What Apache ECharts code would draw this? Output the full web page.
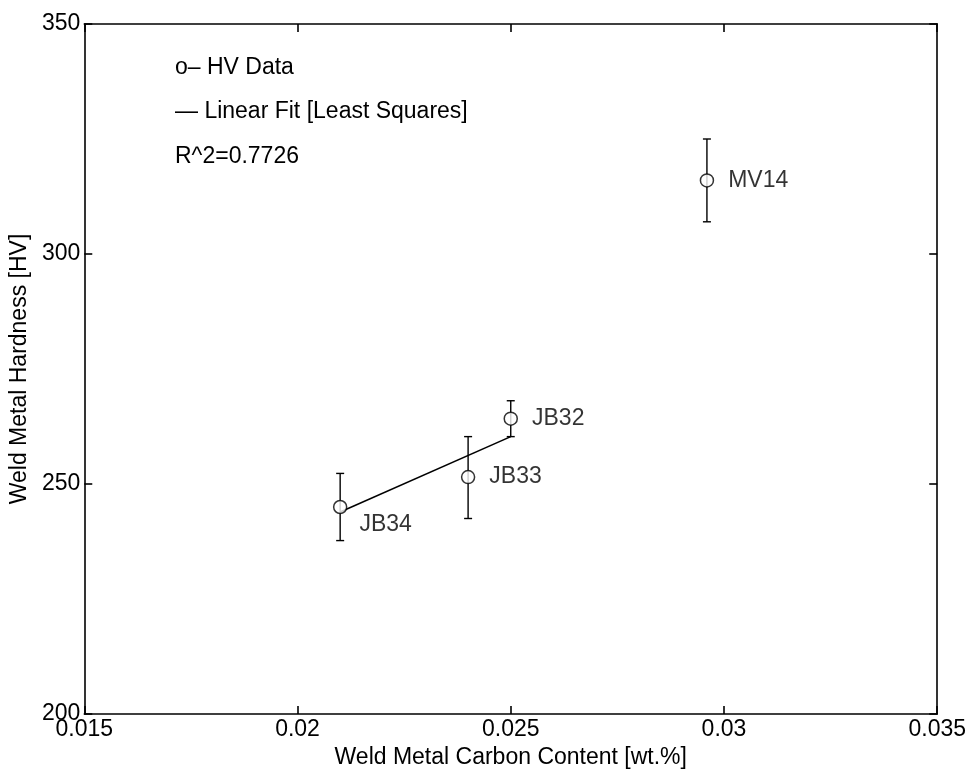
<!DOCTYPE html>
<html><head><meta charset="utf-8">
<script src="https://cdn.jsdelivr.net/npm/echarts@6/dist/echarts.min.js"></script>
<style>html,body{margin:0;padding:0;background:#fff}#c{width:969px;height:776px}</style>
</head><body><div id="c"></div>
<script>
const sampleNames = ['JB34', 'JB33', 'JB32', 'MV14'];
const carbon = [0.021, 0.024, 0.025, 0.0296];
const hardness = [245, 251.5, 264.2, 316];
const errLow = [237.7, 242.5, 260.3, 307];
const errHigh = [252.3, 260.3, 268.1, 325];
const fitX = [0.021, 0.025];
const fitY = [243.9, 260.3];
const xTicks = ['0.015', '0.02', '0.025', '0.03', '0.035'];
const yTicks = ['200', '250', '300', '350'];
const notes = ['o\u2013 HV Data', '\u2014 Linear Fit [Least Squares]', 'R^2=0.7726'];

const FONT = 'Liberation Sans, Arial, sans-serif';
const FS = 23;
const chart = echarts.init(document.getElementById('c'));
const xFmt = v => { const s = xTicks.find(t => Math.abs(parseFloat(t) - v) < 1e-9); return s || ''; };
const yFmt = v => { const s = yTicks.find(t => Math.abs(parseFloat(t) - v) < 1e-9); return s || ''; };
const axisCommon = {
  axisLine: { show: true, onZero: false, lineStyle: { color: '#000', width: 1.6 } },
  axisTick: { show: true, inside: true, length: 8, lineStyle: { color: '#000', width: 1.6 } },
  splitLine: { show: false }
};
const points = carbon.map((x, i) => [x, hardness[i], sampleNames[i]]);
const errs = carbon.map((x, i) => [x, errLow[i], errHigh[i]]);

chart.setOption({
  animation: false,
  grid: { left: 84, right: 27, top: 24, bottom: 62 },
  xAxis: [
    Object.assign({ type: 'value', min: 0.015, max: 0.035, interval: 0.005, position: 'bottom',
      name: 'Weld Metal Carbon Content [wt.%]', nameLocation: 'middle', nameGap: 29,
      nameTextStyle: { fontFamily: FONT, fontSize: FS, color: '#000' },
      axisLabel: { formatter: xFmt, fontFamily: FONT, fontSize: FS, color: '#000', margin: 4 } }, axisCommon),
    Object.assign({ type: 'value', min: 0.015, max: 0.035, interval: 0.005, position: 'top',
      axisLabel: { show: false } }, axisCommon)
  ],
  yAxis: [
    Object.assign({ type: 'value', min: 200, max: 350, interval: 50, position: 'left',
      name: 'Weld Metal Hardness [HV]', nameLocation: 'middle', nameGap: 44, nameRotate: 90,
      nameTextStyle: { fontFamily: FONT, fontSize: FS, color: '#000' },
      axisLabel: { formatter: yFmt, fontFamily: FONT, fontSize: FS, color: '#000', margin: 4 } }, axisCommon),
    Object.assign({ type: 'value', min: 200, max: 350, interval: 50, position: 'right',
      axisLabel: { show: false } }, axisCommon)
  ],
  graphic: notes.map((t, i) => ({
    type: 'text', left: 175, top: 56 + i * 44.5,
    style: { text: t, font: FS + 'px ' + FONT, fill: '#000' }
  })),
  series: [
    {
      type: 'custom', xAxisIndex: 0, yAxisIndex: 0, data: errs,
      renderItem: (params, api) => {
        const x = api.value(0);
        const lo = api.coord([x, api.value(1)]);
        const hi = api.coord([x, api.value(2)]);
        const cap = 4;
        const st = { stroke: '#000', lineWidth: 1.4 };
        return { type: 'group', children: [
          { type: 'line', shape: { x1: lo[0], y1: lo[1], x2: hi[0], y2: hi[1] }, style: st },
          { type: 'line', shape: { x1: lo[0] - cap, y1: lo[1], x2: lo[0] + cap, y2: lo[1] }, style: st },
          { type: 'line', shape: { x1: hi[0] - cap, y1: hi[1], x2: hi[0] + cap, y2: hi[1] }, style: st }
        ] };
      },
      z: 2
    },
    {
      type: 'line', xAxisIndex: 0, yAxisIndex: 0,
      data: fitX.map((x, i) => [x, fitY[i]]),
      symbol: 'none', lineStyle: { color: '#000', width: 1.6 }, z: 3
    },
    {
      type: 'scatter', xAxisIndex: 0, yAxisIndex: 0, data: points,
      symbol: 'circle', symbolSize: 13,
      itemStyle: { color: '#fff', borderColor: '#000', borderWidth: 1.5 },
      label: {
        show: true, position: 'right', distance: 14, formatter: p => p.data[2],
        fontFamily: FONT, fontSize: FS, color: '#000'
      },
      labelLayout: p => p.dataIndex === 0 ? { dx: -2, dy: 18 } : {},
      z: 4
    }
  ]
});
</script></body></html>
